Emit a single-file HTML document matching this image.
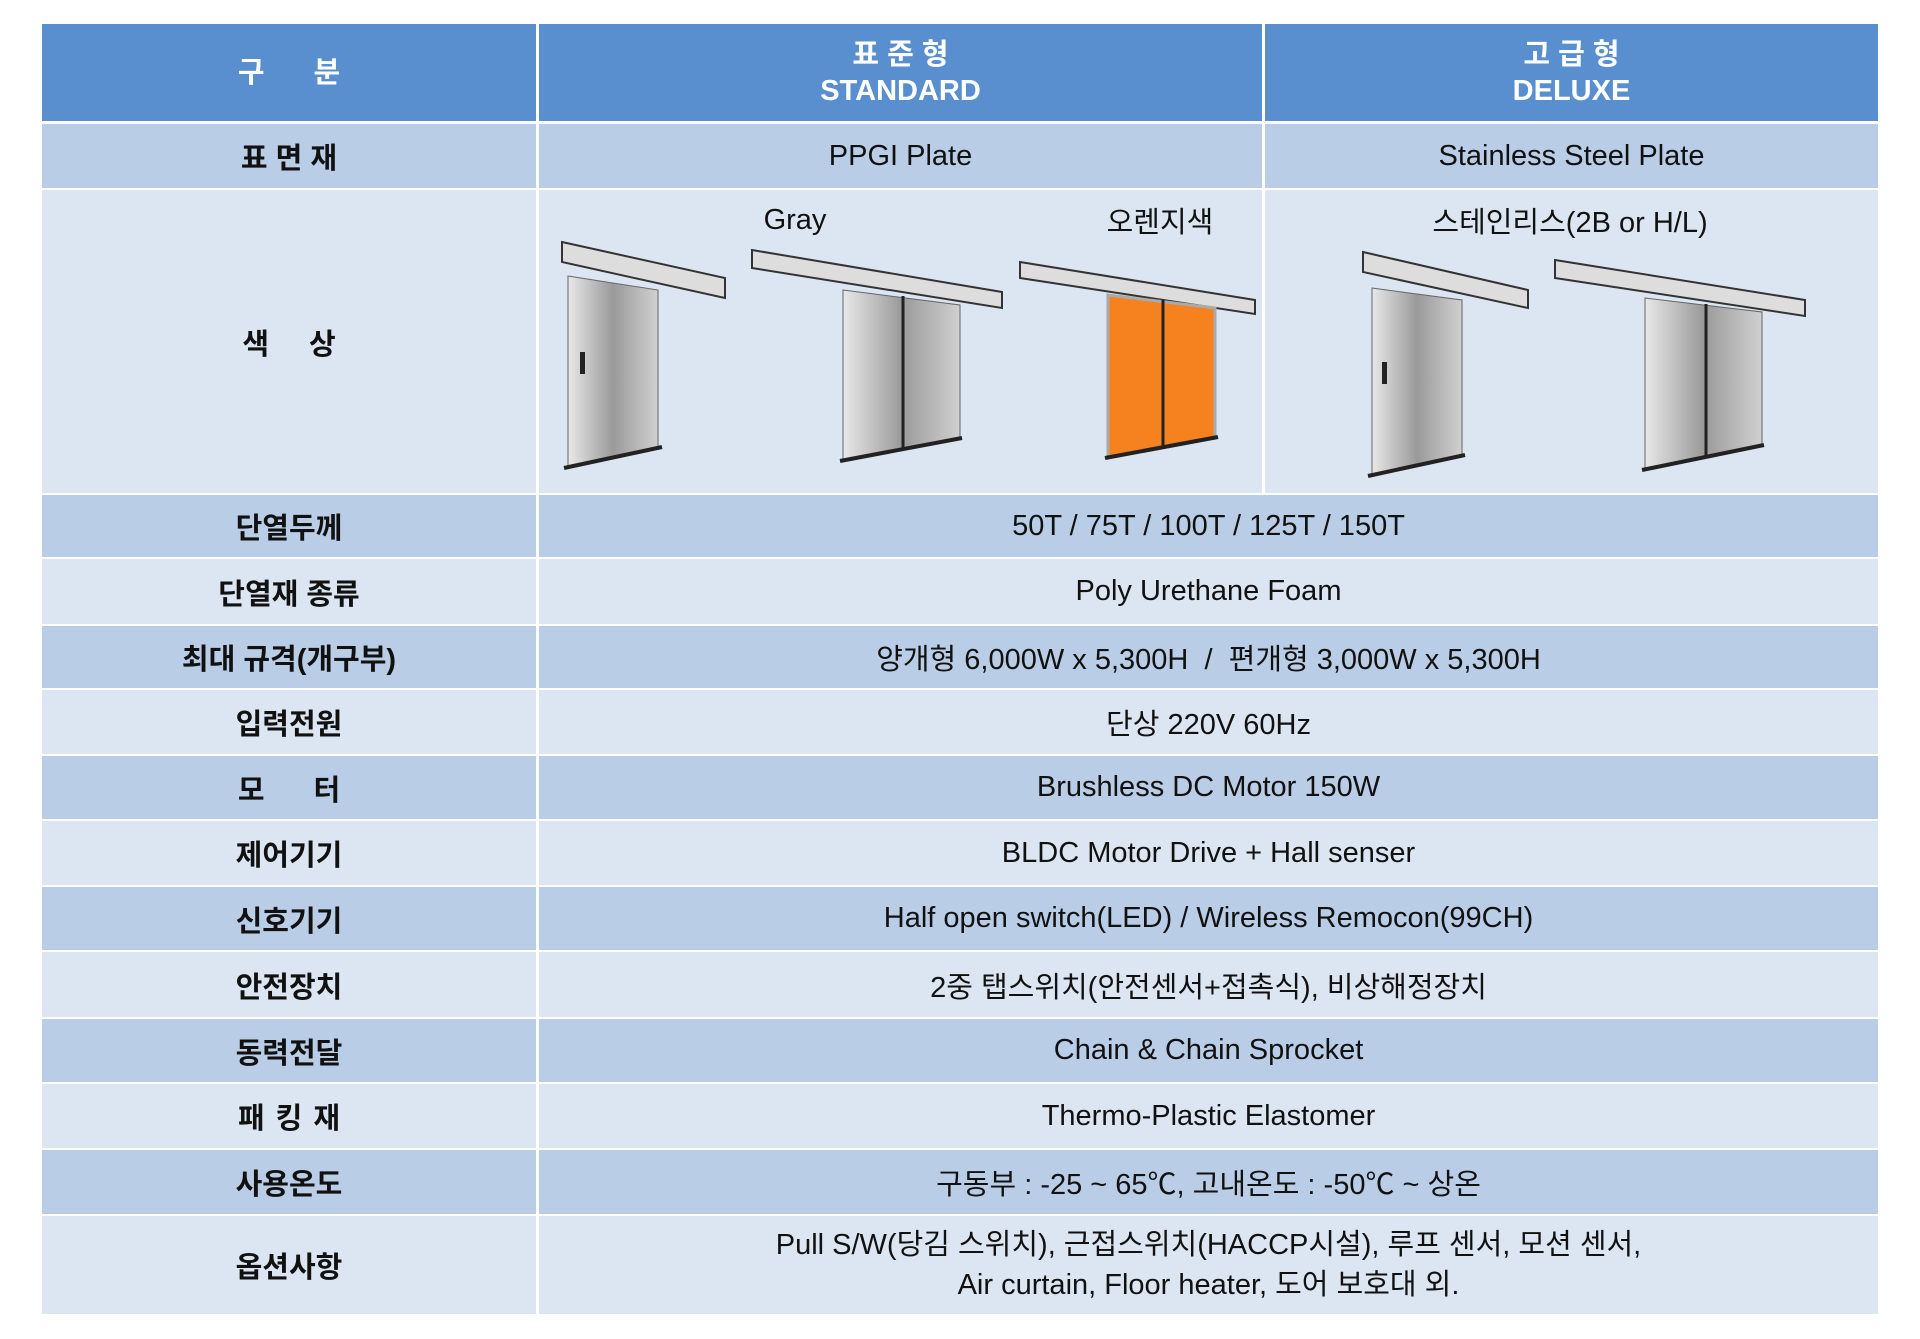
<!DOCTYPE html>
<html><head><meta charset="utf-8"><style>
body{margin:0;width:1920px;height:1339px;background:#fff;position:relative;overflow:hidden;font-family:"Liberation Sans","Noto Sans CJK KR",sans-serif;}
.c{position:absolute;display:flex;align-items:center;justify-content:center;text-align:center;color:#111;font-size:29px;box-sizing:border-box;}
.h{background:#5a8fcf;color:#fff;font-weight:bold;line-height:36px;}
.d{background:#b9cde6;}
.l{background:#dce6f2;}
.b{font-weight:bold;}
</style></head><body>
<div class="c h" style="left:42px;top:24px;width:494px;height:97px;">구<span style="margin-left:49px">분</span></div>
<div class="c h" style="left:539px;top:24px;width:723px;height:97px;">표 준 형<br>STANDARD</div>
<div class="c h" style="left:1265px;top:24px;width:613px;height:97px;">고 급 형<br>DELUXE</div>
<div class="c d b" style="left:42px;top:124px;width:494px;height:64px">표 면 재</div>
<div class="c d" style="left:539px;top:124px;width:723px;height:64px">PPGI Plate</div>
<div class="c d" style="left:1265px;top:124px;width:613px;height:64px">Stainless Steel Plate</div>
<div class="c l b" style="left:42px;top:190px;width:494px;height:303px;">색<span style="margin-left:40px">상</span></div>
<div class="c l" style="left:539px;top:190px;width:723px;height:303px"></div>
<div class="c l" style="left:1265px;top:190px;width:613px;height:303px"></div>
<div class="c" style="left:740px;top:200px;width:110px;height:40px">Gray</div>
<div class="c" style="left:1090px;top:200px;width:140px;height:40px">오렌지색</div>
<div class="c" style="left:1380px;top:200px;width:380px;height:40px">스테인리스(2B or H/L)</div>
<svg style="position:absolute;left:0;top:0" width="1920" height="1339">
<defs><linearGradient id="s" x1="0" x2="1"><stop offset="0" stop-color="#e8e8e8"/><stop offset=".5" stop-color="#9a9a9a"/><stop offset="1" stop-color="#d0d0d0"/></linearGradient></defs>
<polygon points="562,242 725,278 725,298 562,262" fill="#ddd" stroke="#333" stroke-width="2"/>
<polygon points="568,276 658,290 658,448 568,468" fill="url(#s)" stroke="#666"/>
<line x1="564" y1="468" x2="662" y2="447" stroke="#222" stroke-width="4"/>
<rect x="580" y="352" width="5" height="22" fill="#222"/>
<polygon points="752,250 1002,292 1002,308 752,268" fill="#ddd" stroke="#333" stroke-width="2"/>
<polygon points="843,290 960,305 960,438 843,460" fill="url(#s)" stroke="#666"/>
<line x1="903" y1="296" x2="903" y2="450" stroke="#222" stroke-width="3"/>
<line x1="840" y1="461" x2="962" y2="438" stroke="#222" stroke-width="4"/>
<polygon points="1020,262 1255,300 1255,314 1020,278" fill="#ddd" stroke="#333" stroke-width="2"/>
<polygon points="1108,295 1215,308 1215,438 1108,458" fill="#f5821f" stroke="#aaa" stroke-width="3"/>
<line x1="1163" y1="300" x2="1163" y2="448" stroke="#222" stroke-width="3"/>
<line x1="1105" y1="458" x2="1218" y2="437" stroke="#222" stroke-width="4"/>
<polygon points="1363,252 1528,290 1528,308 1363,272" fill="#ddd" stroke="#333" stroke-width="2"/>
<polygon points="1372,288 1462,300 1462,456 1372,476" fill="url(#s)" stroke="#666"/>
<line x1="1368" y1="476" x2="1465" y2="455" stroke="#222" stroke-width="4"/>
<rect x="1382" y="362" width="5" height="22" fill="#222"/>
<polygon points="1555,260 1805,300 1805,316 1555,278" fill="#ddd" stroke="#333" stroke-width="2"/>
<polygon points="1645,298 1762,312 1762,445 1645,470" fill="url(#s)" stroke="#666"/>
<line x1="1706" y1="304" x2="1706" y2="458" stroke="#222" stroke-width="3"/>
<line x1="1642" y1="470" x2="1764" y2="445" stroke="#222" stroke-width="4"/>
</svg>
<div class="c d b" style="left:42px;top:495px;width:494px;height:62px">단열두께</div>
<div class="c d" style="left:539px;top:495px;width:1339px;height:62px">50T / 75T / 100T / 125T / 150T</div>
<div class="c l b" style="left:42px;top:559px;width:494px;height:65px">단열재 종류</div>
<div class="c l" style="left:539px;top:559px;width:1339px;height:65px">Poly Urethane Foam</div>
<div class="c d b" style="left:42px;top:626px;width:494px;height:62px">최대 규격(개구부)</div>
<div class="c d" style="left:539px;top:626px;width:1339px;height:62px">양개형 6,000W x 5,300H &nbsp;/ &nbsp;편개형 3,000W x 5,300H</div>
<div class="c l b" style="left:42px;top:690px;width:494px;height:64px">입력전원</div>
<div class="c l" style="left:539px;top:690px;width:1339px;height:64px">단상 220V 60Hz</div>
<div class="c d b" style="left:42px;top:756px;width:494px;height:63px;">모<span style="margin-left:49px">터</span></div>
<div class="c d" style="left:539px;top:756px;width:1339px;height:63px">Brushless DC Motor 150W</div>
<div class="c l b" style="left:42px;top:821px;width:494px;height:64px">제어기기</div>
<div class="c l" style="left:539px;top:821px;width:1339px;height:64px">BLDC Motor Drive + Hall senser</div>
<div class="c d b" style="left:42px;top:887px;width:494px;height:63px">신호기기</div>
<div class="c d" style="left:539px;top:887px;width:1339px;height:63px">Half open switch(LED) / Wireless Remocon(99CH)</div>
<div class="c l b" style="left:42px;top:952px;width:494px;height:65px">안전장치</div>
<div class="c l" style="left:539px;top:952px;width:1339px;height:65px">2중 탭스위치(안전센서+접촉식), 비상해정장치</div>
<div class="c d b" style="left:42px;top:1019px;width:494px;height:63px">동력전달</div>
<div class="c d" style="left:539px;top:1019px;width:1339px;height:63px">Chain &amp; Chain Sprocket</div>
<div class="c l b" style="left:42px;top:1084px;width:494px;height:64px;">패<span style="margin-left:11px">킹</span><span style="margin-left:11px">재</span></div>
<div class="c l" style="left:539px;top:1084px;width:1339px;height:64px">Thermo-Plastic Elastomer</div>
<div class="c d b" style="left:42px;top:1150px;width:494px;height:64px">사용온도</div>
<div class="c d" style="left:539px;top:1150px;width:1339px;height:64px">구동부 : -25 ~ 65℃, 고내온도 : -50℃ ~ 상온</div>
<div class="c l b" style="left:42px;top:1216px;width:494px;height:98px">옵션사항</div>
<div class="c l" style="left:539px;top:1216px;width:1339px;height:98px;line-height:40px">Pull S/W(당김 스위치), 근접스위치(HACCP시설), 루프 센서, 모션 센서,<br>Air curtain, Floor heater, 도어 보호대 외.</div>
</body></html>
